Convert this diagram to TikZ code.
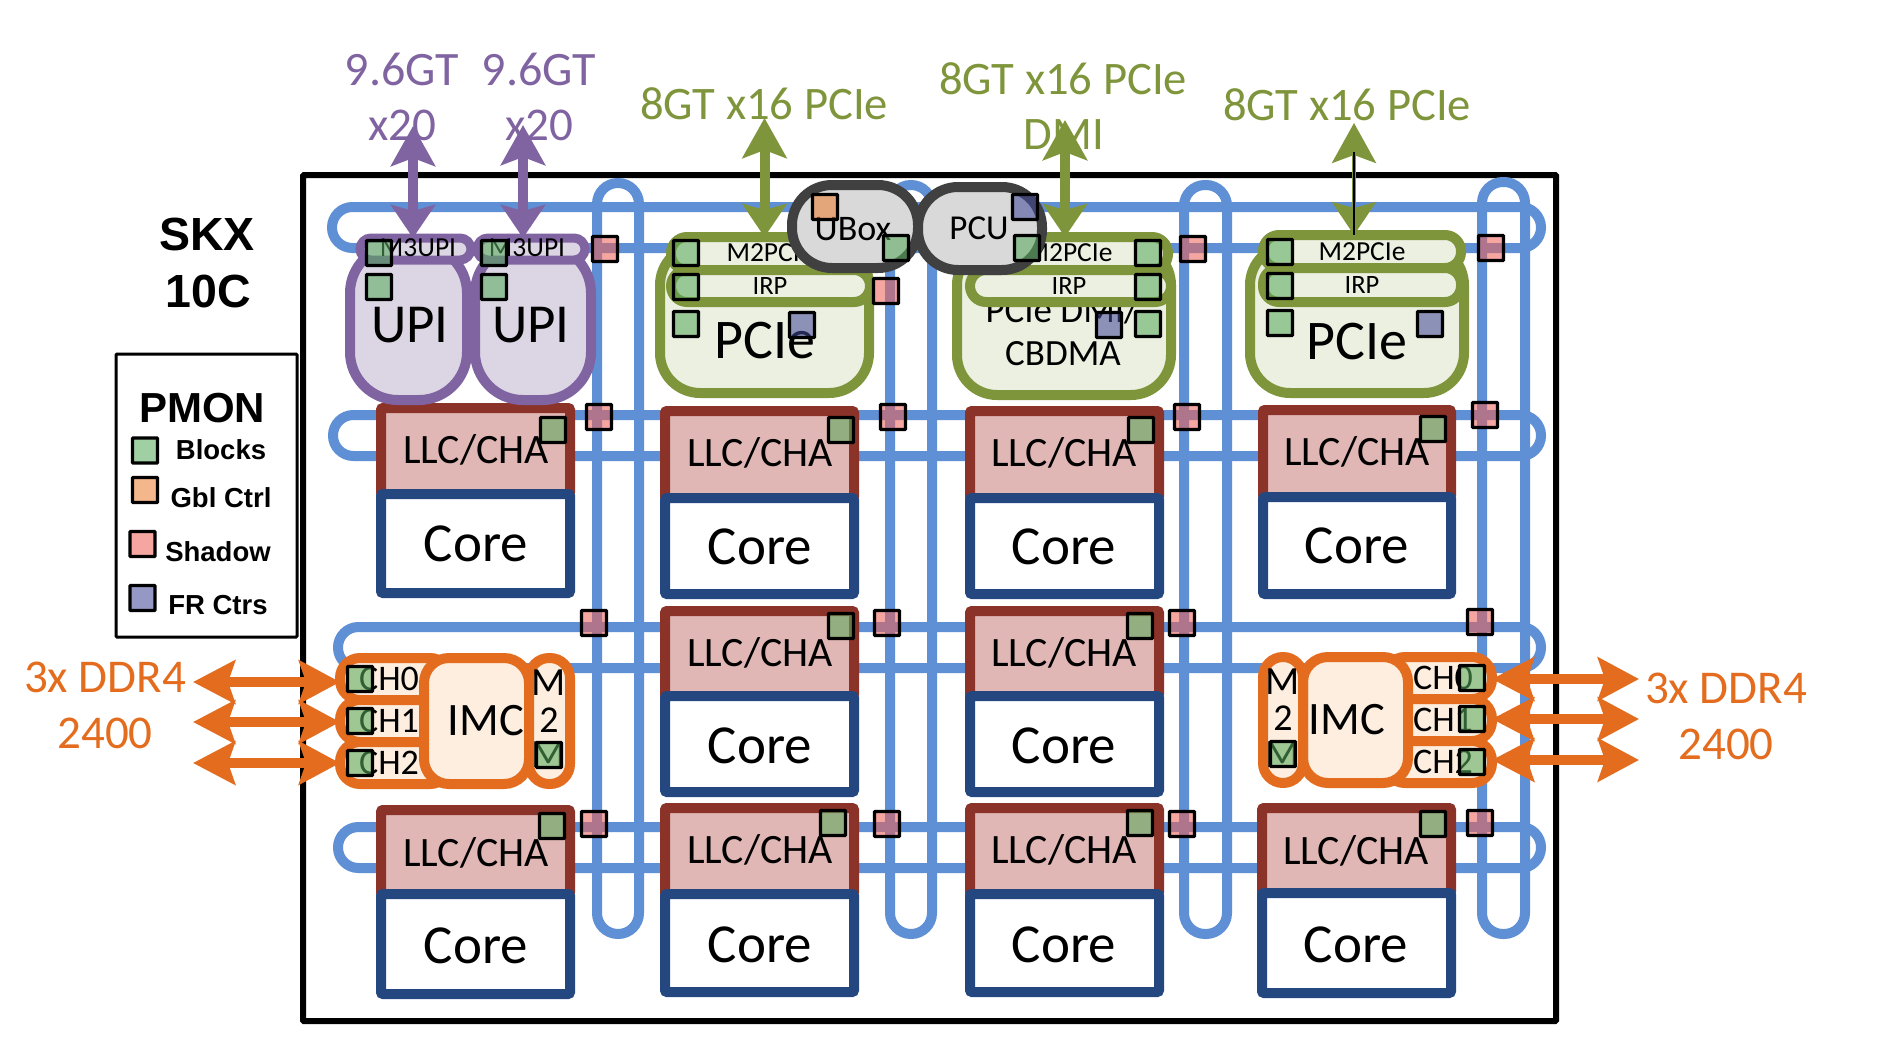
\documentclass[tikz,border=0pt]{standalone}
\usepackage{fontspec}
\setmainfont{Carlito}
\newfontfamily\arialb[BoldFont={Liberation Sans Bold}]{Liberation Sans}
\usetikzlibrary{arrows.meta}
\definecolor{ringblue}{HTML}{5F8FD5}
\definecolor{llcstroke}{HTML}{8C3329}
\definecolor{llcfill}{HTML}{E0B7B5}
\definecolor{corenavy}{HTML}{254780}
\definecolor{upipurple}{HTML}{8064A2}
\definecolor{upifill}{HTML}{DCD6E4}
\definecolor{pciegreen}{HTML}{7F953B}
\definecolor{pciefill}{HTML}{EBF0E0}
\definecolor{ddrorange}{HTML}{E46C1E}
\definecolor{imcfill}{HTML}{FDEEDF}
\definecolor{boxgrey}{HTML}{404040}
\definecolor{boxfill}{HTML}{D9D9D9}
\definecolor{sgreen}{HTML}{57AA5B}
\definecolor{sorange}{HTML}{EC7F32}
\definecolor{spink}{HTML}{EF6256}
\definecolor{sblue}{HTML}{424998}
\newcommand\fs[1]{\fontsize{#1}{#1}\selectfont}
% name, x1, y1, x2, y2, style
\newcommand\blk[6]{\node[inner sep=0pt,outer sep=0pt,minimum width={(#4-#2)*1pt},minimum height={(#5-#3)*1pt},#6] (#1) at ({(#2+#4)/2},{(#3+#5)/2}) {};}
\tikzset{
  ringh/.style={draw=ringblue,line width=10pt,rounded corners=20.4pt},
  ringv/.style={draw=ringblue,line width=10pt,rounded corners=20.9pt},
  llcbox/.style={draw=llcstroke,fill=llcfill,line width=10pt,rounded corners=2pt},
  corebox/.style={draw=corenavy,fill=white,line width=10pt,rounded corners=2pt},
  upibox/.style={draw=upipurple,fill=upifill,line width=10pt,rounded corners=48pt},
  upipill/.style={draw=upipurple,fill=upifill,line width=9pt,rounded corners=11pt},
  pciebox/.style={draw=pciegreen,fill=pciefill,line width=10pt,rounded corners=40pt},
  pciepill/.style={draw=pciegreen,fill=pciefill,line width=10pt,rounded corners=16pt},
  greybox/.style={draw=boxgrey,fill=boxfill,line width=10pt,rounded corners=40pt},
  chpill/.style={draw=ddrorange,fill=imcfill,line width=10pt,rounded corners=20pt},
  imcbox/.style={draw=ddrorange,fill=imcfill,line width=10pt,rounded corners=25pt},
  mmpill/.style={draw=ddrorange,fill=imcfill,line width=10pt,rounded corners=20pt},
  sqbase/.style={draw=black,line width=3.4pt,minimum size=25pt,inner sep=0pt,outer sep=0pt,fill opacity=.56,rounded corners=.8pt},
  sqgreen/.style={sqbase,fill=sgreen},
  sqorange/.style={sqbase,fill=sorange},
  sqpink/.style={sqbase,fill=spink},
  sqblue/.style={sqbase,fill=sblue},
  lbl/.style={inner sep=0pt,text=black,align=center},
  biarrow/.style={line width=10pt,{Stealth[length=40pt,width=44pt,inset=8pt]}-{Stealth[length=33pt,width=44pt,inset=6pt]}},
  ddrarrow/.style={draw=ddrorange,line width=10pt,{Stealth[length=42pt,width=43pt,inset=7pt]}-{Stealth[length=41pt,width=43pt,inset=7pt]}},
}
\begin{document}
\begin{tikzpicture}[x=1pt,y=-1pt]
\useasboundingbox (0,0) rectangle (1898,1060);
\fill[white] (0,0) rectangle (1898,1060);

% frame
\blk{frame}{303}{175}{1556}{1021}{draw=black,line width=6pt,rounded corners=1pt}
\node[lbl,font=\arialb\bfseries\fs{46.5}] (skx) at (207,234) {SKX};
\node[lbl,font=\arialb\bfseries\fs{46.5}] (tenc) at (208,291) {10C};

% legend
\blk{legend}{116}{354}{297}{637}{draw=black,line width=3pt,rounded corners=1pt}
\node[lbl,font=\arialb\bfseries\fs{42}] (pmon) at (202,408) {PMON};
\node[sqgreen] (lga) at (145,450.5) {};
\node[lbl,font=\arialb\bfseries\fs{27.5}] (lgat) at (221,449.5) {Blocks};
\node[sqorange] (lgb) at (145,490) {};
\node[lbl,font=\arialb\bfseries\fs{27.5}] (lgbt) at (221,497.5) {Gbl Ctrl};
\node[sqpink] (lgc) at (142.5,544) {};
\node[lbl,font=\arialb\bfseries\fs{27.5}] (lgct) at (218,551.5) {Shadow};
\node[sqblue] (lgd) at (142.5,598) {};
\node[lbl,font=\arialb\bfseries\fs{27.5}] (lgdt) at (218,605.5) {FR Ctrs};

% mesh rings
\blk{hra}{332}{207}{1541}{248}{ringh}
\blk{hrb}{333}{415}{1541}{456}{ringh}
\blk{hrc}{338}{627}{1541}{668}{ringh}
\blk{hrd}{338}{827}{1541}{868}{ringh}
\blk{vra}{597}{183}{639}{934}{ringv}
\blk{vrb}{890}{185}{932}{934}{ringv}
\blk{vrc}{1184}{185}{1227}{934}{ringv}
\blk{vrd}{1482}{182}{1525}{934}{ringv}

% LLC / core tiles
\foreach \n/\xa/\xb/\ya/\yb/\yc/\tx/\ty/\cy in {
  aa/381/570/408/494/593/476/450/544,
  ab/665/854/411/498/594/760/453/547,
  ac/970/1159/411/498/594/1064/453/547,
  ad/1263/1451/410/497/594/1357/452/546,
  bb/665/854/611/696/792/760/653/746,
  bc/970/1159/611/696/792/1064/653/746,
  ca/381/570/810/894/994/476/853/946,
  cb/665/854/808/894/992/760/850/945,
  cc/970/1159/808/894/992/1064/850/945,
  cd/1262/1451/808/893/993/1356/851/945}
{
  \blk{llc\n}{\xa}{\ya}{\xb}{\yb}{llcbox}
  \blk{core\n}{\xa}{\yb}{\xb}{\yc}{corebox}
  \node[lbl,font=\fs{41.8}] (llct\n) at (\tx,\ty) {LLC/CHA};
  \node[lbl,font=\fs{55}] (coret\n) at (\tx,\cy) {Core};
}

% UPI
\blk{upia}{350}{245}{467}{400}{upibox}
\blk{upib}{475}{245}{591}{400}{upibox}
\node[lbl,font=\fs{55}] (upiat) at (410,325) {UPI};
\node[lbl,font=\fs{55}] (upibt) at (531,325) {UPI};
\blk{mua}{360}{238}{471}{260}{upipill}
\blk{mub}{477}{238}{585}{260}{upipill}
\node[lbl,font=\fs{27.5}] (muat) at (418,248) {M3UPI};
\node[lbl,font=\fs{27.5}] (mubt) at (527,248) {M3UPI};

% PCIe column 1
\blk{pca}{660}{245}{869}{393}{pciebox}
\node[lbl,font=\fs{56}] (pcat) at (765,341) {PCIe};
\blk{m2a}{671}{237}{880}{270}{pciepill}
\node[lbl,font=\fs{27.5}] (m2at) at (770,253) {M2PCIe};
\blk{ira}{671}{270}{870}{302}{pciepill}
\node[lbl,font=\fs{26.5}] (irat) at (770,286) {IRP};

% PCIe column 2
\blk{pcb}{957}{245}{1171}{395}{pciebox}
\node[lbl,font=\fs{37}] (pcbt) at (1062,310) {PCIe DMI/};
\node[lbl,font=\fs{37}] (pcbu) at (1063,354) {CBDMA};
\blk{m2b}{964}{237}{1168}{270}{pciepill}
\node[lbl,font=\fs{27.5}] (m2bt) at (1069,253) {M2PCIe};
\blk{irb}{970}{270}{1171}{302}{pciepill}
\node[lbl,font=\fs{26.5}] (irbt) at (1069,286) {IRP};

% PCIe column 3
\blk{pcc}{1250}{245}{1464}{393}{pciebox}
\node[lbl,font=\fs{56}] (pcct) at (1357,342) {PCIe};
\blk{m2c}{1263}{235}{1461}{268}{pciepill}
\node[lbl,font=\fs{27.5}] (m2ct) at (1362,252) {M2PCIe};
\blk{irc}{1263}{268}{1461}{302}{pciepill}
\node[lbl,font=\fs{26.5}] (irct) at (1362,285) {IRP};

% left IMC
\blk{cha}{340}{658}{450}{700}{chpill}
\blk{chb}{340}{700}{450}{742}{chpill}
\blk{chc}{340}{742}{450}{784}{chpill}
\node[lbl,font=\fs{36}] (chat) at (389,679) {CH0};
\node[lbl,font=\fs{36}] (chbt) at (389,721) {CH1};
\node[lbl,font=\fs{36}] (chct) at (389,763) {CH2};
\blk{imca}{424}{658}{529}{784}{imcbox}
\node[lbl,font=\fs{46.5}] (imcat) at (486,721) {IMC};
\blk{mma}{529}{658}{570}{784}{mmpill}
\node[lbl,font=\fs{40}] (mmat) at (549,683) {M};
\node[lbl,font=\fs{38}] (mmau) at (549,720) {2};
\node[lbl,font=\fs{40}] (mmav) at (549,755) {M};

% right IMC
\blk{chd}{1385}{657}{1492}{699}{chpill}
\blk{che}{1385}{699}{1492}{741}{chpill}
\blk{chf}{1385}{741}{1492}{783}{chpill}
\node[lbl,font=\fs{36}] (chdt) at (1443,678) {CH0};
\node[lbl,font=\fs{36}] (chet) at (1443,720) {CH1};
\node[lbl,font=\fs{36}] (chft) at (1443,762) {CH2};
\blk{imcb}{1303}{657}{1408}{783}{imcbox}
\node[lbl,font=\fs{46.5}] (imcbt) at (1347,720) {IMC};
\blk{mmb}{1263}{657}{1303}{783}{mmpill}
\node[lbl,font=\fs{40}] (mmbt) at (1283,682) {M};
\node[lbl,font=\fs{38}] (mmbu) at (1283,718) {2};
\node[lbl,font=\fs{40}] (mmbv) at (1283,755) {M};

% external labels
\node[lbl,text=upipurple,font=\fs{48}] (upa) at (402,69) {9.6GT};
\node[lbl,text=upipurple,font=\fs{48}] (upb) at (539,69) {9.6GT};
\node[lbl,text=upipurple,font=\fs{47}] (upc) at (402,125) {x20};
\node[lbl,text=upipurple,font=\fs{47}] (upd) at (539,125) {x20};
\node[lbl,text=pciegreen,font=\fs{46.6}] (pla) at (764,104) {8GT x16 PCIe};
\node[lbl,text=pciegreen,font=\fs{46.6}] (plb) at (1063,79) {8GT x16 PCIe};
\node[lbl,text=pciegreen,font=\fs{46.6}] (plc) at (1064,135) {DMI};
\node[lbl,text=pciegreen,font=\fs{46.6}] (pld) at (1347,105) {8GT x16 PCIe};
\node[lbl,text=ddrorange,font=\fs{47}] (dda) at (105,677) {3x DDR4};
\node[lbl,text=ddrorange,font=\fs{47}] (ddb) at (105,733) {2400};
\node[lbl,text=ddrorange,font=\fs{47}] (ddc) at (1726,688) {3x DDR4};
\node[lbl,text=ddrorange,font=\fs{47}] (ddd) at (1726,744) {2400};

% arrows
\coordinate (ua) at (413,126);
\coordinate (ub) at (523,125);
\coordinate (pa) at (764.5,118);
\coordinate (pb) at (1065,120);
\coordinate (pc) at (1354,123);
\draw[biarrow,draw=upipurple] (ua) -- (ua |- mua.north);
\draw[biarrow,draw=upipurple] (ub) -- (ub |- mub.north);
\draw[biarrow,draw=pciegreen] (pa) -- (pa |- m2a.north);
\draw[biarrow,draw=pciegreen] (pb) -- (pb |- m2b.north);
\draw[biarrow,draw=pciegreen,line width=4pt] (pc) -- (pc |- m2c.north);
\coordinate (pcd) at (1354,152);
\draw[black,line width=1.4pt] (pcd) -- (pcd |- m2c.north);

\coordinate (la) at (193,682);
\coordinate (lb) at (193,722);
\coordinate (lc) at (193,763);
\coordinate (ra) at (1639,679);
\coordinate (rb) at (1639,719);
\coordinate (rc) at (1639,760);
\draw[ddrarrow] (la) -- (la -| cha.west);
\draw[ddrarrow] (lb) -- (lb -| chb.west);
\draw[ddrarrow] (lc) -- (lc -| chc.west);
\draw[ddrarrow] (ra -| chd.east) -- (ra);
\draw[ddrarrow] (rb -| che.east) -- (rb);
\draw[ddrarrow] (rc -| chf.east) -- (rc);

% UBox, PCU
\blk{ubox}{792}{185}{918}{268}{greybox}
\node[lbl,font=\fs{36}] (uboxt) at (853,229) {UBox};
\blk{pcu}{918}{187}{1042}{270}{greybox}
\node[lbl,font=\fs{35}] (pcut) at (979,228) {PCU};

% PMON squares
\foreach \x/\y [count=\i] in {
  379/253,379/287,494/253,494/287,
  686/253,686/287,686/324,896/248,1027/248,
  1148/253,1148/287,1148/324,
  1280/252,1280/286,1280/323,
  553/430,841/430,1141/430,1433/429,
  841/626,1140/626,
  552/826,833/823,1140/823,1433/824,
  360/679,360/721,360/763,549/755,
  1472/678,1472/719,1472/762,1283/754}
  \node[sqgreen] (sg\i) at (\x,\y) {};
\foreach \x/\y [count=\i] in {
  605/249,886/291,1193/249,1491/248,
  599/417,893/417,1187/417,1485/415,
  594/623,887/623,1182/623,1480/622,
  594/824,887/824,1182/824,1480/823}
  \node[sqpink] (sp\i) at (\x,\y) {};
\foreach \x/\y [count=\i] in {802/325,1025/207,1109/325,1430/324}
  \node[sqblue] (sb\i) at (\x,\y) {};
\node[sqorange] (so1) at (825,207) {};
\end{tikzpicture}
\end{document}
